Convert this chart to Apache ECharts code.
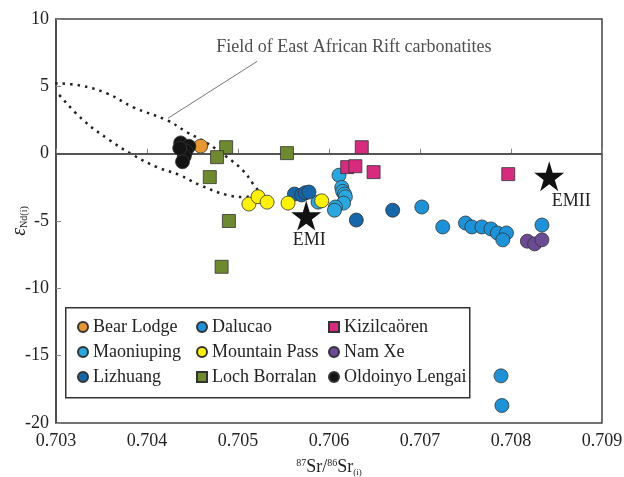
<!DOCTYPE html>
<html><head><meta charset="utf-8">
<script src="https://cdn.jsdelivr.net/npm/echarts@6/dist/echarts.min.js"></script>
<style>html,body{margin:0;padding:0;background:#fff}#c{width:624px;height:477px}</style>
</head><body><div id="c"></div>
<script>
// ---- data ----
const xTicks = [0.703, 0.704, 0.705, 0.706, 0.707, 0.708, 0.709];
const yTicks = [-20, -15, -10, -5, 0, 5, 10];
const bearLodge = [[0.70459, 0.56]];
const maoniuping = [[0.70588,-3.6],[0.70611,-1.6],[0.70614,-2.5],[0.70615,-2.8],[0.70617,-3.0],[0.70618,-3.2],[0.70616,-3.67],[0.70607,-3.96],[0.70606,-4.2]];
const lizhuang = [[0.70562,-3.0],[0.7057,-3.07],[0.70574,-2.9],[0.70578,-2.85],[0.7063,-4.93],[0.7067,-4.2]];
const dalucao = [[0.70702,-3.96],[0.70725,-5.44],[0.70750,-5.15],[0.70757,-5.44],[0.70768,-5.44],[0.70778,-5.59],[0.70785,-5.89],[0.70795,-5.89],[0.70791,-6.4],[0.70834,-5.3],[0.70789,-16.5],[0.7079,-18.7]];
const mountainPass = [[0.70512,-3.74],[0.70522,-3.2],[0.70532,-3.6],[0.70555,-3.67],[0.70592,-3.5]];
const lochBorralan = [[0.70487,0.48],[0.70477,-0.26],[0.70469,-1.74],[0.7049,-5.0],[0.70482,-8.4],[0.705538,0.04]];
const kizilcaoren = [[0.70636,0.48],[0.7062,-1.0],[0.70629,-0.93],[0.70649,-1.37],[0.70797,-1.52]];
const namXe = [[0.70818,-6.5],[0.70826,-6.7],[0.70834,-6.4]];
const oldoinyo = [[0.70437,0.8],[0.70446,0.55],[0.70443,0.2],[0.70441,-0.2],[0.70439,-0.6],[0.70436,0.4]];
const endMembers = [{name:'EMI', value:[0.70575,-4.6]},{name:'EMII', value:[0.70842,-1.67]}];
// field outline of East African Rift carbonatites
const fieldOutline = [[0.70299,5.22],[0.70326,5.07],[0.70356,4.48],[0.70385,3.44],[0.70422,2.48],[0.70444,1.59],[0.70466,0.78],[0.70488,-0.26],[0.70505,-1.22],[0.70516,-2.19],[0.70522,-2.85],[0.70516,-3.07],[0.70508,-3.22],[0.70488,-3.07],[0.70458,-2.33],[0.70436,-1.59],[0.70411,-1.0],[0.70385,-0.11],[0.70359,1.0],[0.7033,2.48],[0.70302,4.48]];
const fieldLabel = {text:'Field of East African Rift carbonatites', at:[0.70476, 7.9]};
const arrowFrom = [0.70521, 6.85], arrowTo = [0.70423, 2.63];
const refX = 0.70469, refY = 0;

const FONT = 'Liberation Serif';
const FS = 18;
const BORDER = '#333';
const star = 'path://M50,0 L61,35 L98,35 L68,57 L79,91 L50,70 L21,91 L32,57 L2,35 L39,35 Z';

function sc(name, data, color, symbol, size) {
  return {name, type:'scatter', data, symbol: symbol||'circle', symbolSize: size||14,
    itemStyle:{color, borderColor:BORDER, borderWidth:0.8, opacity:1}, z:5};
}
const legText = {fontSize:FS, fontFamily:FONT, color:'#222'};

const chart = echarts.init(document.getElementById('c'));
const option = {
  animation:false,
  backgroundColor:'#fff',
  textStyle:{fontFamily:FONT},
  grid:{left:56, right:22, top:19, bottom:54, outerBoundsMode:'none', containLabel:false, show:true, borderColor:'#444', borderWidth:1.5, backgroundColor:'transparent'},
  xAxis:{type:'value', min:xTicks[0], max:xTicks[xTicks.length-1], interval:0.001,
    name:'{s|87}{t|Sr/}{s|86}{t|Sr}{b|(i)}', nameLocation:'middle', nameGap:35, nameMoveOverlap:false,
    nameTextStyle:{rich:{t:{fontSize:FS, fontFamily:FONT, color:'#222'}, s:{fontSize:10, fontFamily:FONT, color:'#222', padding:[0,0,8,0]}, b:{fontSize:9, fontFamily:FONT, color:'#222', padding:[10,0,0,0]}}},
    axisLine:{lineStyle:{color:'#444', width:1.5}}, axisTick:{inside:true, length:5, lineStyle:{color:'#888'}},
    splitLine:{show:false},
    axisLabel:{fontSize:FS, fontFamily:FONT, color:'#222', margin:9, formatter:v=>v.toFixed(3)}},
  yAxis:{type:'value', min:yTicks[0], max:yTicks[yTicks.length-1], interval:5,
    name:'{e|ε}{b|Nd(i)}', nameLocation:'middle', nameGap:26, nameRotate:90, nameMoveOverlap:false,
    nameTextStyle:{rich:{e:{fontSize:20, fontStyle:'italic', fontFamily:FONT, color:'#222'}, b:{fontSize:10, fontFamily:FONT, color:'#222', padding:[8,0,0,0]}}},
    axisLine:{lineStyle:{color:'#444', width:1.5}}, axisTick:{inside:true, length:5, lineStyle:{color:'#888'}},
    splitLine:{show:false},
    axisLabel:{fontSize:FS, fontFamily:FONT, color:'#222', margin:7}},
  legend:[
    {data:[{name:'Bear Lodge',icon:'circle'},{name:'Maoniuping',icon:'circle'},{name:'Lizhuang',icon:'circle'}], orient:'vertical', left:72, top:313, itemWidth:10, itemHeight:10, itemGap:7, textStyle:legText, z:10},
    {data:[{name:'Dalucao',icon:'circle'},{name:'Mountain Pass',icon:'circle'},{name:'Loch Borralan',icon:'rect'}], orient:'vertical', left:191, top:313, itemWidth:10, itemHeight:10, itemGap:7, textStyle:legText, z:10},
    {data:[{name:'Kizilcaören',icon:'rect'},{name:'Nam Xe',icon:'circle'},{name:'Oldoinyo Lengai',icon:'circle'}], orient:'vertical', left:323, top:313, itemWidth:10, itemHeight:10, itemGap:7, textStyle:legText, z:10}
  ],
  graphic:[{type:'rect', left:65, top:307, shape:{width:404, height:90}, style:{fill:'#fff', stroke:'#333', lineWidth:1.5}, z:8}],
  series:[
    {name:'ref', type:'scatter', data:[], silent:true, z:1,
      markLine:{silent:true, symbol:'none', label:{show:false}, lineStyle:{color:'#555', width:2, type:'solid'},
        data:[{xAxis:refX},{yAxis:refY}]}},
    {name:'field', type:'line', data:fieldOutline, smooth:0.4, showSymbol:false, symbol:'none', silent:true, z:3,
      lineStyle:{color:'#222', width:2.5, type:[2.5,5]}},
    {name:'arrow', type:'scatter', data:[], silent:true, z:4,
      markLine:{silent:true, label:{show:false}, symbolSize:[0,10], lineStyle:{color:'#777', width:1, type:'solid'},
        data:[[{coord:arrowFrom, symbol:'none'},{coord:arrowTo, symbol:'arrow'}]]}},
    {name:'label', type:'scatter', data:[fieldLabel.at], symbolSize:0, silent:true, z:4,
      label:{show:true, position:'right', distance:0, formatter:fieldLabel.text, fontSize:FS, fontFamily:FONT, color:'#222'}},
    sc('Bear Lodge', bearLodge, '#e8962e'),
    sc('Maoniuping', maoniuping, '#29a7e1'),
    sc('Lizhuang', lizhuang, '#1667a9'),
    sc('Dalucao', dalucao, '#1c93d8'),
    sc('Mountain Pass', mountainPass, '#fff200'),
    sc('Loch Borralan', lochBorralan, '#6e8a2e', 'rect', 13),
    sc('Kizilcaören', kizilcaoren, '#d82a7e', 'rect', 13),
    sc('Nam Xe', namXe, '#6b4b94'),
    sc('Oldoinyo Lengai', oldoinyo, '#141414'),
    {name:'EM', type:'scatter', symbol:star, symbolSize:30, itemStyle:{color:'#111', opacity:1}, z:6,
      data:[
        {name:endMembers[0].name, value:endMembers[0].value, label:{show:true, position:'bottom', offset:[3,-4]}},
        {name:endMembers[1].name, value:endMembers[1].value, label:{show:true, position:'bottom', offset:[22,-4]}}
      ],
      label:{formatter:'{b}', fontSize:FS, fontFamily:FONT, color:'#222'}}
  ]
};
chart.setOption(option);
</script></body></html>
